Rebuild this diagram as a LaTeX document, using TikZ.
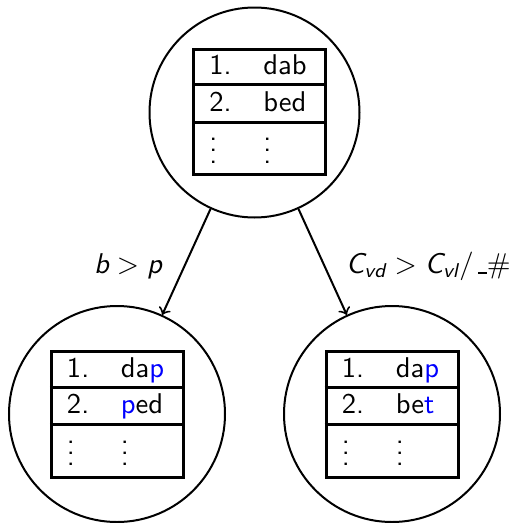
\documentclass[tikz,border=0pt]{standalone}
\usepackage{amsmath}
\usetikzlibrary{calc}
\newcommand\msl[1]{\textsf{\slshape #1}}
\newcommand\hlb[1]{\textcolor{blue}{#1}}
\newcommand\ubar{\,\rule[-0.3pt]{3pt}{0.5pt}}
\newcommand\mydots{\vbox{\baselineskip4pt\lineskiplimit0pt\hbox{.}\hbox{.}\hbox{.}}}
\tikzset{
  state/.style={circle, draw, line width=0.7pt, inner sep=0pt},
  tbl/.style={draw, line width=1.05pt, inner sep=0pt, minimum width=132*0.35pt, minimum height=125.5*0.35pt},
  rule/.style={line width=1.05pt},
  cell/.style={anchor=base west, inner sep=0pt, font=\sffamily},
  arr/.style={->, line width=0.7pt},
  lab/.style={anchor=base, inner sep=0pt, font=\sffamily},
}
\newcommand\mktable[4]{%
  \node[tbl] (#1) at (#2) {};
  \draw[rule] ($(#1.north west)+(0,37)$) -- ($(#1.north east)+(0,37)$);
  \draw[rule] ($(#1.north west)+(0,74.5)$) -- ($(#1.north east)+(0,74.5)$);
  \node[cell] (#1n1) at ($(#1.north west)+(16.5,27)$) {1.};
  \node[cell] (#1w1) at ($(#1.north west)+(70.5,27)$) {#3};
  \node[cell] (#1n2) at ($(#1.north west)+(16.5,63.5)$) {2.};
  \node[cell] (#1w2) at ($(#1.north west)+(70.5,63.5)$) {#4};
  \node[cell] (#1d1) at ($(#1.north west)+(16.5,115.5)$) {\mydots};
  \node[cell] (#1d2) at ($(#1.north west)+(70.5,115.5)$) {\mydots};
}
\begin{document}
\begin{tikzpicture}[x=0.35pt, y=-0.35pt]
\useasboundingbox (0,0) rectangle (517,523);
\node[state, minimum size=210*0.35pt] (ctop) at (254.5,112.5) {};
\node[state, minimum size=216*0.35pt] (cbl) at (117,414) {};
\node[state, minimum size=216*0.35pt] (cbr) at (392,414) {};
\mktable{ta}{259.75,112}{dab}{bed}
\mktable{tb}{117.4,414.7}{da\hlb{p}}{\hlb{p}ed}
\mktable{tc}{392.2,414.7}{da\hlb{p}}{be\hlb{t}}
\draw[arr] (ctop) -- (cbl);
\draw[arr] (ctop) -- (cbr);
\node[lab] (l1) at (128,273) {$\msl{b} > \msl{p}$};
\node[lab] (l2) at (428.5,273) {$\msl{C}_{\msl{vd}} > \msl{C}_{\msl{vl}}/\ubar\#$};
\end{tikzpicture}
\end{document}
